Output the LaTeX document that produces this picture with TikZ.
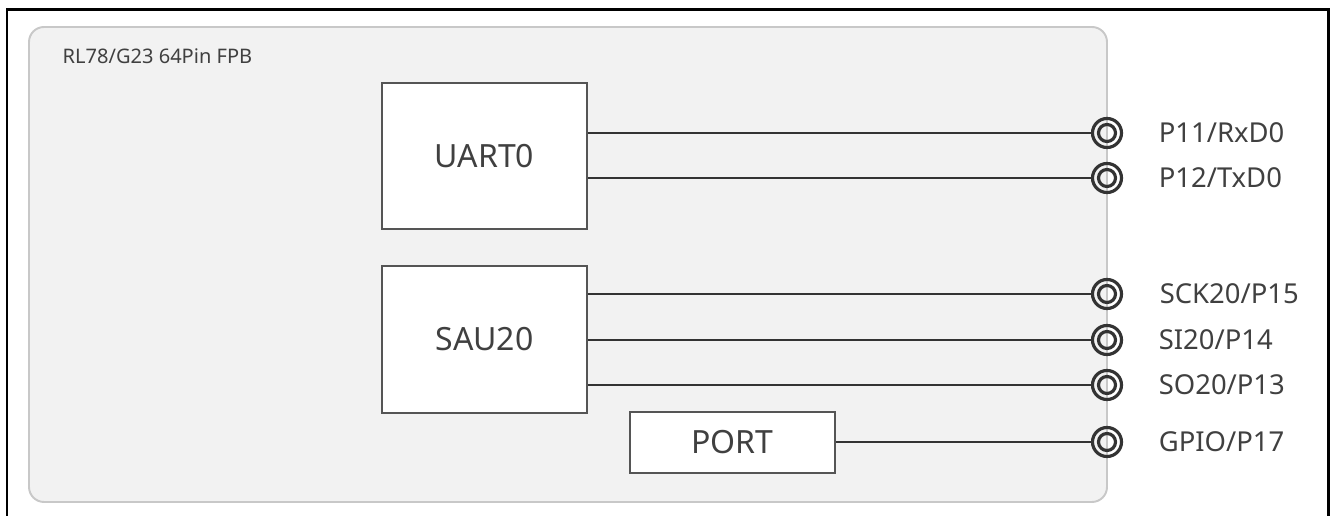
\documentclass[tikz,border=0pt]{standalone}
\usepackage{fontspec}
\setmainfont{Noto Sans}
\usetikzlibrary{positioning}
\definecolor{boardfill}{HTML}{F2F2F2}
\definecolor{boardline}{HTML}{C8C8C8}
\definecolor{wiregray}{HTML}{333333}
\definecolor{boxline}{HTML}{555555}
\definecolor{textgray}{HTML}{404040}
\begin{document}
\begin{tikzpicture}[x=0.01cm, y=-0.01cm,
    blockbox/.style={draw=boxline, line width=0.6pt, fill=white, text=textgray, inner sep=0pt, font=\fontsize{9.1}{10}\selectfont},
    pinring/.style={circle, draw=wiregray, line width=0.9pt, minimum size=0.29cm, inner sep=0pt,
        path picture={\draw[wiregray, line width=0.9pt] (path picture bounding box.center) circle (0.085cm);}},
    pinlabel/.style={inner sep=0pt, text height=5.6pt, text depth=0pt, text=textgray, font=\fontsize{7.8}{9}\selectfont},
    wire/.style={draw=wiregray, line width=0.6pt}]
    \useasboundingbox (0,0) rectangle (1330,516);
    % 1. outer frame and board
    \draw[black, line width=0.85pt] (7,516) -- (7,10) -- (1328,10) -- (1328,516);
    \draw[fill=boardfill, draw=boardline, line width=0.55pt, rounded corners=0.15cm] (29,27) rectangle (1107,502);
    \node[anchor=west, inner sep=0pt, text height=4pt, text depth=0pt, text=textgray, font=\fontsize{5.7}{7}\selectfont] (boardname) at (62,56) {RL78/G23 64Pin FPB};

    % 2. peripheral blocks
    \node[blockbox, minimum width=2.05cm, minimum height=1.46cm] (uart) at (484.5,156) {UART0};
    \node[blockbox, minimum width=2.05cm, minimum height=1.47cm] (sau) at (484.5,339.5) {SAU20};
    \node[blockbox, minimum width=2.05cm, minimum height=0.61cm] (port) at (732.5,442.5) {PORT};

    % 3. pins
    \node[pinring] (p11) at (1107,133) {};
    \node[pinring] (p12) at (1107,178) {};
    \node[pinring] (p15) at (1107,294) {};
    \node[pinring] (p14) at (1107,340) {};
    \node[pinring] (p13) at (1107,385) {};
    \node[pinring] (p17) at (1107,442) {};

    \node[pinlabel, right=0.35cm of p11] (p11name) {P11/RxD0};
    \node[pinlabel, right=0.35cm of p12] (p12name) {P12/TxD0};
    \node[pinlabel, right=0.36cm of p15] (p15name) {SCK20/P15};
    \node[pinlabel, right=0.35cm of p14] (p14name) {SI20/P14};
    \node[pinlabel, right=0.35cm of p13] (p13name) {SO20/P13};
    \node[pinlabel, right=0.35cm of p17] (p17name) {GPIO/P17};

    % 4. wires
    \draw[wire] (uart.east |- p11) -- (p11);
    \draw[wire] (uart.east |- p12) -- (p12);
    \draw[wire] (sau.east |- p15) -- (p15);
    \draw[wire] (sau.east |- p14) -- (p14);
    \draw[wire] (sau.east |- p13) -- (p13);
    \draw[wire] (port.east |- p17) -- (p17);
\end{tikzpicture}
\end{document}
